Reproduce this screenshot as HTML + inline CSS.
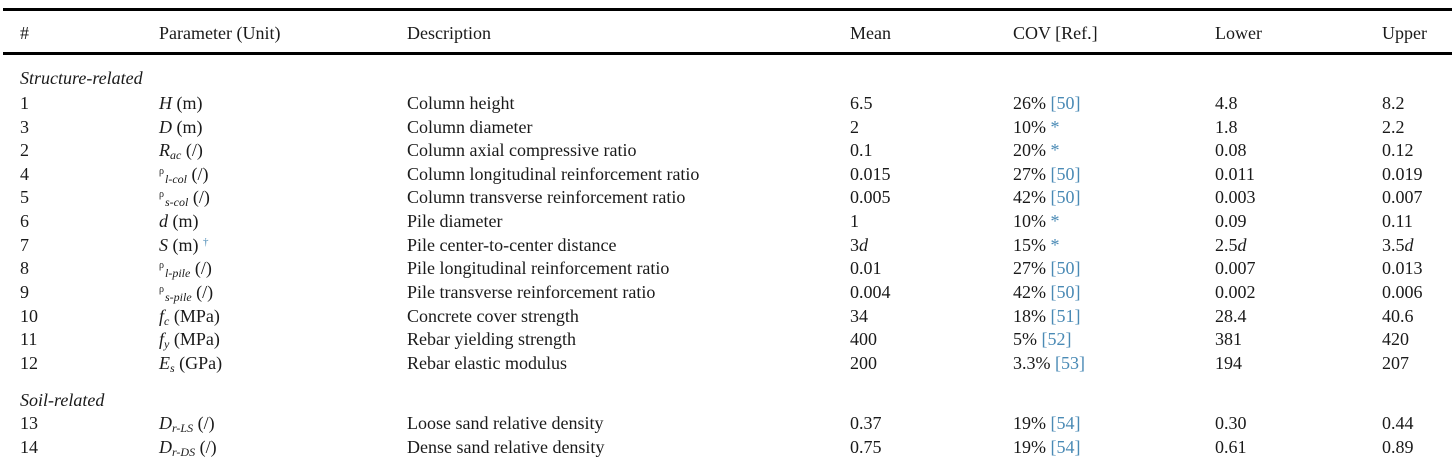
<!DOCTYPE html>
<html><head><meta charset="utf-8"><style>
html,body{margin:0;padding:0;background:#fff;}
body{width:1452px;height:470px;position:relative;overflow:hidden;font-family:"Liberation Serif",serif;font-size:18px;color:#1a1a1a;}
.r{position:absolute;left:0;width:1452px;height:24px;line-height:24px;white-space:nowrap;}
.r span{position:absolute;top:0;}
.c0{left:20px}.c1{left:159px}.c2{left:407px}.c3{left:850px}.c4{left:1013px}.c5{left:1215px}.c6{left:1382px}
.rule{position:absolute;left:3px;right:0;height:3px;background:#000;}
i{font-style:italic}
.b{color:#4a8ab5}
sub{font-size:12px;vertical-align:-3px;line-height:0}
.rho{font-size:10px;vertical-align:6px;line-height:0;margin-right:1px}
</style></head><body>
<div class="rule" style="top:8px"></div>
<div class="rule" style="top:52px"></div>
<div class="r" style="top:21px"><span class="c0">#</span><span class="c1">Parameter (Unit)</span><span class="c2">Description</span><span class="c3">Mean</span><span class="c4">COV [Ref.]</span><span class="c5">Lower</span><span class="c6">Upper</span></div>
<div class="r" style="top:66px"><span class="c0"><i>Structure-related</i></span></div>
<div class="r" style="top:91px"><span class="c0">1</span><span class="c1"><i>H</i> (m)</span><span class="c2">Column height</span><span class="c3">6.5</span><span class="c4">26% <span class="b" style="position:static">[50]</span></span><span class="c5">4.8</span><span class="c6">8.2</span></div>
<div class="r" style="top:115px"><span class="c0">3</span><span class="c1"><i>D</i> (m)</span><span class="c2">Column diameter</span><span class="c3">2</span><span class="c4">10% <span class="b" style="position:static">*</span></span><span class="c5">1.8</span><span class="c6">2.2</span></div>
<div class="r" style="top:138px"><span class="c0">2</span><span class="c1"><i>R<sub>ac</sub></i> (/)</span><span class="c2">Column axial compressive ratio</span><span class="c3">0.1</span><span class="c4">20% <span class="b" style="position:static">*</span></span><span class="c5">0.08</span><span class="c6">0.12</span></div>
<div class="r" style="top:162px"><span class="c0">4</span><span class="c1"><span class="rho" style="position:static">ρ</span><i><sub>l-col</sub></i> (/)</span><span class="c2">Column longitudinal reinforcement ratio</span><span class="c3">0.015</span><span class="c4">27% <span class="b" style="position:static">[50]</span></span><span class="c5">0.011</span><span class="c6">0.019</span></div>
<div class="r" style="top:185px"><span class="c0">5</span><span class="c1"><span class="rho" style="position:static">ρ</span><i><sub>s-col</sub></i> (/)</span><span class="c2">Column transverse reinforcement ratio</span><span class="c3">0.005</span><span class="c4">42% <span class="b" style="position:static">[50]</span></span><span class="c5">0.003</span><span class="c6">0.007</span></div>
<div class="r" style="top:209px"><span class="c0">6</span><span class="c1"><i>d</i> (m)</span><span class="c2">Pile diameter</span><span class="c3">1</span><span class="c4">10% <span class="b" style="position:static">*</span></span><span class="c5">0.09</span><span class="c6">0.11</span></div>
<div class="r" style="top:233px"><span class="c0">7</span><span class="c1"><i>S</i> (m) <span class="b" style="position:static;font-size:11px;vertical-align:6px;line-height:0">†</span></span><span class="c2">Pile center-to-center distance</span><span class="c3">3<i>d</i></span><span class="c4">15% <span class="b" style="position:static">*</span></span><span class="c5">2.5<i>d</i></span><span class="c6">3.5<i>d</i></span></div>
<div class="r" style="top:256px"><span class="c0">8</span><span class="c1"><span class="rho" style="position:static">ρ</span><i><sub>l-pile</sub></i> (/)</span><span class="c2">Pile longitudinal reinforcement ratio</span><span class="c3">0.01</span><span class="c4">27% <span class="b" style="position:static">[50]</span></span><span class="c5">0.007</span><span class="c6">0.013</span></div>
<div class="r" style="top:280px"><span class="c0">9</span><span class="c1"><span class="rho" style="position:static">ρ</span><i><sub>s-pile</sub></i> (/)</span><span class="c2">Pile transverse reinforcement ratio</span><span class="c3">0.004</span><span class="c4">42% <span class="b" style="position:static">[50]</span></span><span class="c5">0.002</span><span class="c6">0.006</span></div>
<div class="r" style="top:304px"><span class="c0">10</span><span class="c1"><i>f<sub>c</sub></i> (MPa)</span><span class="c2">Concrete cover strength</span><span class="c3">34</span><span class="c4">18% <span class="b" style="position:static">[51]</span></span><span class="c5">28.4</span><span class="c6">40.6</span></div>
<div class="r" style="top:327px"><span class="c0">11</span><span class="c1"><i>f<sub>y</sub></i> (MPa)</span><span class="c2">Rebar yielding strength</span><span class="c3">400</span><span class="c4">5% <span class="b" style="position:static">[52]</span></span><span class="c5">381</span><span class="c6">420</span></div>
<div class="r" style="top:351px"><span class="c0">12</span><span class="c1"><i>E<sub>s</sub></i> (GPa)</span><span class="c2">Rebar elastic modulus</span><span class="c3">200</span><span class="c4">3.3% <span class="b" style="position:static">[53]</span></span><span class="c5">194</span><span class="c6">207</span></div>
<div class="r" style="top:388px"><span class="c0"><i>Soil-related</i></span></div>
<div class="r" style="top:411px"><span class="c0">13</span><span class="c1"><i>D<sub>r-LS</sub></i> (/)</span><span class="c2">Loose sand relative density</span><span class="c3">0.37</span><span class="c4">19% <span class="b" style="position:static">[54]</span></span><span class="c5">0.30</span><span class="c6">0.44</span></div>
<div class="r" style="top:435px"><span class="c0">14</span><span class="c1"><i>D<sub>r-DS</sub></i> (/)</span><span class="c2">Dense sand relative density</span><span class="c3">0.75</span><span class="c4">19% <span class="b" style="position:static">[54]</span></span><span class="c5">0.61</span><span class="c6">0.89</span></div>
</body></html>
